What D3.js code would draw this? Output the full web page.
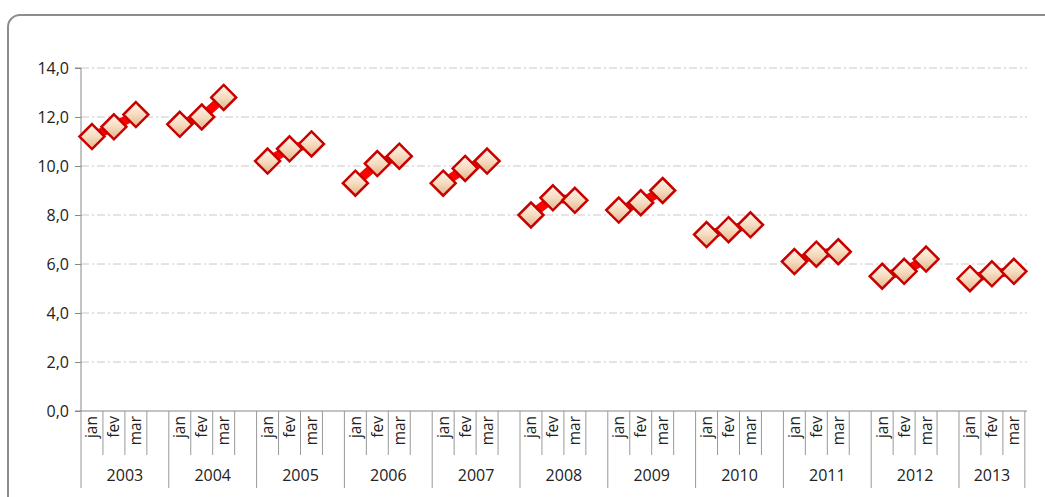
<!DOCTYPE html><html><head><meta charset="utf-8">
<script src="https://cdn.jsdelivr.net/npm/d3@7"></script>
<style>body{margin:0;background:#fff}svg{display:block}svg text{font-family:"Open Sans","Noto Sans",sans-serif}</style>
</head><body><svg id="c" width="1045" height="497"></svg>
<script>
const years=["2003","2004","2005","2006","2007","2008","2009","2010","2011","2012","2013"];
const months=["jan","fev","mar"];
const values=[[11.2,11.6,12.1],[11.7,12.0,12.8],[10.2,10.7,10.9],[9.3,10.1,10.4],[9.3,9.9,10.2],[8.0,8.7,8.6],[8.2,8.5,9.0],[7.2,7.4,7.6],[6.1,6.4,6.5],[5.5,5.7,6.2],[5.4,5.6,5.7]];
const yTicks=[0,2,4,6,8,10,12,14];
const svg=d3.select("#c");
const defs=svg.append("defs");
const g=defs.append("linearGradient").attr("id","gf").attr("x1",0).attr("y1",0).attr("x2",0).attr("y2",1);
g.append("stop").attr("offset","0%").attr("stop-color","#fff6ea");
g.append("stop").attr("offset","50%").attr("stop-color","#f6dcc0");
g.append("stop").attr("offset","100%").attr("stop-color","#e2b48c");
svg.append("rect").attr("x",8).attr("y",15).attr("width",1060).attr("height",500).attr("rx",12).attr("fill","#fff").attr("stroke","#8c8c8c").attr("stroke-width",2);
const x0=81,slot=21.95,nSlots=43;
const x=d3.scaleLinear().domain([0,nSlots]).range([x0,x0+slot*nSlots]);
const y=d3.scaleLinear().domain([0,14]).range([411,68]);
svg.append("g").selectAll("line").data(yTicks.filter(d=>d>0)).join("line")
 .attr("x1",x0).attr("x2",1027).attr("y1",d=>y(d)).attr("y2",d=>y(d))
 .attr("stroke","#c8c8c8").attr("stroke-dasharray","8,3,2,3");
const ya=svg.append("g").attr("transform",`translate(${x0},0)`).call(d3.axisLeft(y).tickValues(yTicks).tickSize(6).tickFormat(d=>d3.format(".1f")(d).replace(".",",")));
ya.attr("font-size",null);
ya.select(".domain").attr("stroke","#888").attr("d",`M-6,${y(0)}H0V${y(14)}H-6`);
ya.selectAll(".tick line").attr("stroke","#888");
ya.selectAll("text").style("font-size","16px").attr("fill","#222").attr("x",-12);
svg.append("line").attr("x1",x0).attr("x2",1027).attr("y1",y(0)).attr("y2",y(0)).attr("stroke","#888");
const ax=svg.append("g");
for(let s=0;s<=nSlots;s++){
  const big=s%4===0||s===nSlots;
  ax.append("line").attr("x1",x(s)).attr("x2",x(s)).attr("y1",y(0)).attr("y2",big?488:455).attr("stroke","#999");
}
years.forEach((yr,i)=>{
  months.forEach((m,j)=>{
    const cx=x(i*4+j+0.5);
    ax.append("text").attr("transform",`translate(${cx+5.5},416) rotate(-90)`).attr("text-anchor","end").style("font-size","15.5px").attr("fill","#222").text(m);
  });
  const end=Math.min(i*4+4,nSlots);
  ax.append("text").attr("x",(x(i*4)+x(end))/2).attr("y",481).attr("text-anchor","middle").style("font-size","16px").attr("fill","#222").text(yr);
});
const line=d3.line().x(d=>x(d.s+0.5)).y(d=>y(d.v));
values.forEach((vals,i)=>{
  const pts=vals.map((v,j)=>({s:i*4+j,v}));
  svg.append("path").attr("d",line(pts)).attr("fill","none").attr("stroke","#ff0000").attr("stroke-width",9);
  svg.append("g").selectAll("path").data(pts).join("path")
   .attr("transform",d=>`translate(${x(d.s+0.5)},${y(d.v)})`)
   .attr("d","M0,-12.5L12.5,0L0,12.5L-12.5,0Z").attr("fill","url(#gf)").attr("stroke","#c80000").attr("stroke-width",2.5);
});
</script></body></html>
